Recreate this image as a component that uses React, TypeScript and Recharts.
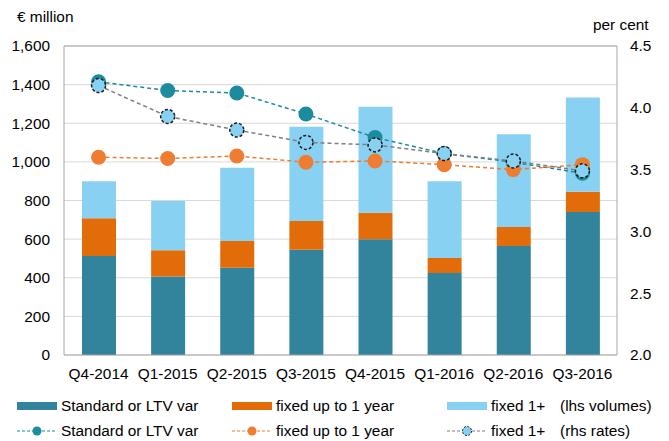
import React from "react";
import {
  Bar,
  CartesianGrid,
  ComposedChart,
  Line,
  ReferenceLine,
  XAxis,
  YAxis,
} from "recharts";

const quarters = ["Q4-2014", "Q1-2015", "Q2-2015", "Q3-2015", "Q4-2015", "Q1-2016", "Q2-2016", "Q3-2016"];

// lhs volumes, € million
const stdVolume = [512, 407, 452, 545, 600, 424, 564, 741];
const fixedUpTo1Volume = [196, 135, 138, 149, 137, 78, 99, 104];
const fixed1PlusVolume = [192, 256, 379, 488, 549, 398, 480, 488];

// rhs rates, per cent
const stdRate = [4.21, 4.14, 4.12, 3.95, 3.76, 3.63, 3.56, 3.47];
const fixedUpTo1Rate = [3.6, 3.59, 3.61, 3.56, 3.57, 3.54, 3.5, 3.54];
const fixed1PlusRate = [4.18, 3.93, 3.82, 3.72, 3.7, 3.63, 3.57, 3.49];

const leftTicks = [0, 200, 400, 600, 800, 1000, 1200, 1400, 1600];
const rightTicks = [2, 2.5, 3, 3.5, 4, 4.5];

const C = {
  std: "#31849b",
  fixed1: "#e36c0a",
  fixedPlus: "#89d1f3",
  stdDot: "#1b8b9d",
  fixed1Dot: "#ee7d32",
  grey: "#7f7f7f",
  axis: "#a6a6a6",
  grid: "#d9d9d9",
};

const FONT = "'Liberation Sans', Arial, sans-serif";
const FS = 15.4;

const data = quarters.map((q, i) => ({
  q,
  std: stdVolume[i],
  fixed1: fixedUpTo1Volume[i],
  fixedPlus: fixed1PlusVolume[i],
  stdRate: stdRate[i],
  fixed1Rate: fixedUpTo1Rate[i],
  fixedPlusRate: fixed1PlusRate[i],
}));

const tick = { fill: "#000", fontSize: FS, fontFamily: FONT };

function Swatch({ color }: { color: string }) {
  return <span style={{ display: "inline-block", width: 40, height: 8, background: color }} />;
}

function LineKey({ line, fill, stroke }: { line: string; fill: string; stroke?: string }) {
  return (
    <svg width={40} height={12} style={{ display: "block" }}>
      <line x1={0} y1={6} x2={40} y2={6} stroke={line} strokeWidth={1.2} strokeDasharray="3 2" />
      <circle
        cx={20}
        cy={6}
        r={4.5}
        fill={fill}
        stroke={stroke ?? "none"}
        strokeWidth={stroke ? 1 : 0}
        strokeDasharray={stroke ? "2 1.5" : undefined}
      />
    </svg>
  );
}

const txt: React.CSSProperties = {
  position: "absolute",
  fontFamily: FONT,
  fontSize: FS,
  color: "#000",
  whiteSpace: "nowrap",
  lineHeight: "18px",
};

function Key({ x, y, children }: { x: number; y: number; children: React.ReactNode }) {
  return (
    <div style={{ position: "absolute", left: x, top: y - 6, height: 12, display: "flex", alignItems: "center" }}>
      {children}
    </div>
  );
}

export default function App() {
  return (
    <div style={{ position: "absolute", left: 0, top: 0, width: 669, height: 441, background: "#fff" }}>
      <div style={{ ...txt, left: 17, top: 8 }}>€ million</div>
      <div style={{ ...txt, left: 593, top: 16 }}>per cent</div>
      <ComposedChart width={669} height={441} data={data} margin={{ top: 46, right: 7, bottom: 56, left: 14 }}>
        <CartesianGrid yAxisId="left" vertical={false} stroke={C.grid} />
        <XAxis
          dataKey="q"
          tick={tick}
          tickLine={false}
          tickSize={0}
          tickMargin={13}
          height={30}
          stroke={C.axis}
          interval={0}
        />
        <YAxis
          yAxisId="left"
          domain={[0, 1600]}
          ticks={leftTicks}
          tickFormatter={(v: number) => v.toLocaleString("en-US")}
          tick={tick}
          tickLine={false}
          tickSize={0}
          tickMargin={14}
          width={50}
          stroke={C.axis}
        />
        <YAxis
          yAxisId="right"
          orientation="right"
          domain={[2, 4.5]}
          ticks={rightTicks}
          tickFormatter={(v: number) => v.toFixed(1)}
          tick={tick}
          tickLine={false}
          tickSize={0}
          tickMargin={13}
          width={45}
          stroke={C.axis}
        />
        <ReferenceLine yAxisId="left" y={1600} stroke={C.axis} />
        <Bar yAxisId="left" dataKey="std" stackId="v" fill={C.std} barSize={34} isAnimationActive={false} />
        <Bar yAxisId="left" dataKey="fixed1" stackId="v" fill={C.fixed1} barSize={34} isAnimationActive={false} />
        <Bar yAxisId="left" dataKey="fixedPlus" stackId="v" fill={C.fixedPlus} barSize={34} isAnimationActive={false} />
        <Line
          yAxisId="right"
          type="linear"
          dataKey="stdRate"
          stroke={C.stdDot}
          strokeWidth={1.5}
          strokeDasharray="4 3"
          dot={{ r: 7.5, fill: C.stdDot, stroke: "none" }}
          activeDot={false}
          isAnimationActive={false}
        />
        <Line
          yAxisId="right"
          type="linear"
          dataKey="fixed1Rate"
          stroke={C.fixed1Dot}
          strokeWidth={1.5}
          strokeDasharray="4 3"
          dot={{ r: 7.5, fill: C.fixed1Dot, stroke: "none" }}
          activeDot={false}
          isAnimationActive={false}
        />
        <Line
          yAxisId="right"
          type="linear"
          dataKey="fixedPlusRate"
          stroke={C.grey}
          strokeWidth={1.5}
          strokeDasharray="4 3"
          dot={{ r: 7, fill: C.fixedPlus, stroke: "#1a1a1a", strokeWidth: 1.5, strokeDasharray: "3 2" }}
          activeDot={false}
          isAnimationActive={false}
        />
      </ComposedChart>

      <Key x={17} y={406}><Swatch color={C.std} /></Key>
      <div style={{ ...txt, left: 61, top: 397 }}>Standard or LTV var</div>
      <Key x={232} y={406}><Swatch color={C.fixed1} /></Key>
      <div style={{ ...txt, left: 276, top: 397 }}>fixed up to 1 year</div>
      <Key x={447} y={406}><Swatch color={C.fixedPlus} /></Key>
      <div style={{ ...txt, left: 491, top: 397 }}>fixed 1+</div>
      <div style={{ ...txt, left: 560, top: 397 }}>(lhs volumes)</div>

      <Key x={17} y={431}><LineKey line={C.stdDot} fill={C.stdDot} /></Key>
      <div style={{ ...txt, left: 61, top: 422 }}>Standard or LTV var</div>
      <Key x={232} y={431}><LineKey line={C.fixed1Dot} fill={C.fixed1Dot} /></Key>
      <div style={{ ...txt, left: 276, top: 422 }}>fixed up to 1 year</div>
      <Key x={447} y={431}><LineKey line={C.grey} fill={C.fixedPlus} stroke="#1a1a1a" /></Key>
      <div style={{ ...txt, left: 491, top: 422 }}>fixed 1+</div>
      <div style={{ ...txt, left: 560, top: 422 }}>(rhs rates)</div>
    </div>
  );
}
